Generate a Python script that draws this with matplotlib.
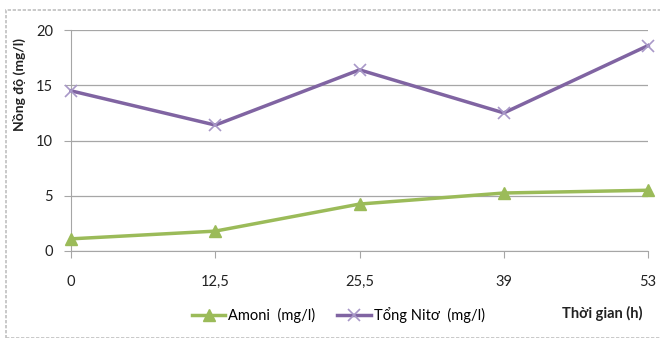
import matplotlib.pyplot as plt
from matplotlib.patches import Rectangle
import numpy as np

plt.rcParams['font.family'] = ['Lato', 'DejaVu Sans']

# Thời điểm lấy mẫu (h) và nồng độ đo được (mg/l)
thoi_gian = ['0', '12,5', '25,5', '39', '53']
amoni = [1.1, 1.8, 4.25, 5.25, 5.5]
tong_nito = [14.5, 11.4, 16.4, 12.5, 18.6]

x = np.arange(len(thoi_gian))

fig = plt.figure(figsize=(6.6, 3.38), dpi=100)
ax = fig.add_axes([0.1076, 0.2574, 0.8744, 0.6536])

# khung viền quanh biểu đồ
fig.patches.append(Rectangle((0.009, 0.001), 1.2, 0.969, transform=fig.transFigure,
                             fill=False, edgecolor='#c0c0c0', linewidth=1.2, linestyle=(0, (2, 1))))

ax.plot(x, amoni, color='#9bbb59', linewidth=2.5, marker='^', markersize=8,
        label='Amoni  (mg/l)', clip_on=False, zorder=3)
ax.plot(x, tong_nito, color='#8064a2', linewidth=2.5, marker='x', markersize=9,
        markeredgecolor='#a898c8', markeredgewidth=1.2,
        label='Tổng Nitơ  (mg/l)', clip_on=False, zorder=3)

ax.set_xlim(0, len(thoi_gian) - 1)
ax.set_ylim(0, 20)
ax.set_yticks(np.arange(0, 21, 5))
ax.set_xticks(x)
ax.set_xticklabels(thoi_gian)

ax.grid(axis='y', color='#a6a6a6', linewidth=0.9)
ax.set_axisbelow(True)
for s in ['top', 'right']:
    ax.spines[s].set_visible(False)
ax.spines['left'].set_color('#a6a6a6')
ax.spines['bottom'].set_color('#a6a6a6')
ax.tick_params(axis='both', colors='#a6a6a6', labelcolor='#222222', labelsize=10.5, length=5)
ax.tick_params(axis='x', pad=12)
ax.tick_params(axis='y', pad=8)

fig.text(0.03, 0.751, 'Nồng độ (mg/l)', rotation=90, ha='center', va='center',
         fontsize=10, fontweight='bold', color='#222222')
fig.text(0.974, 0.074, 'Thời gian (h)', ha='right', va='center',
         fontsize=10.5, fontweight='bold', color='#222222')

ax.legend(loc='center', bbox_to_anchor=(0.463, -0.29), ncol=2, frameon=False,
          fontsize=10.5, handlelength=2.3, columnspacing=1.5, handletextpad=0.2)

plt.savefig('out.png', dpi=100)
